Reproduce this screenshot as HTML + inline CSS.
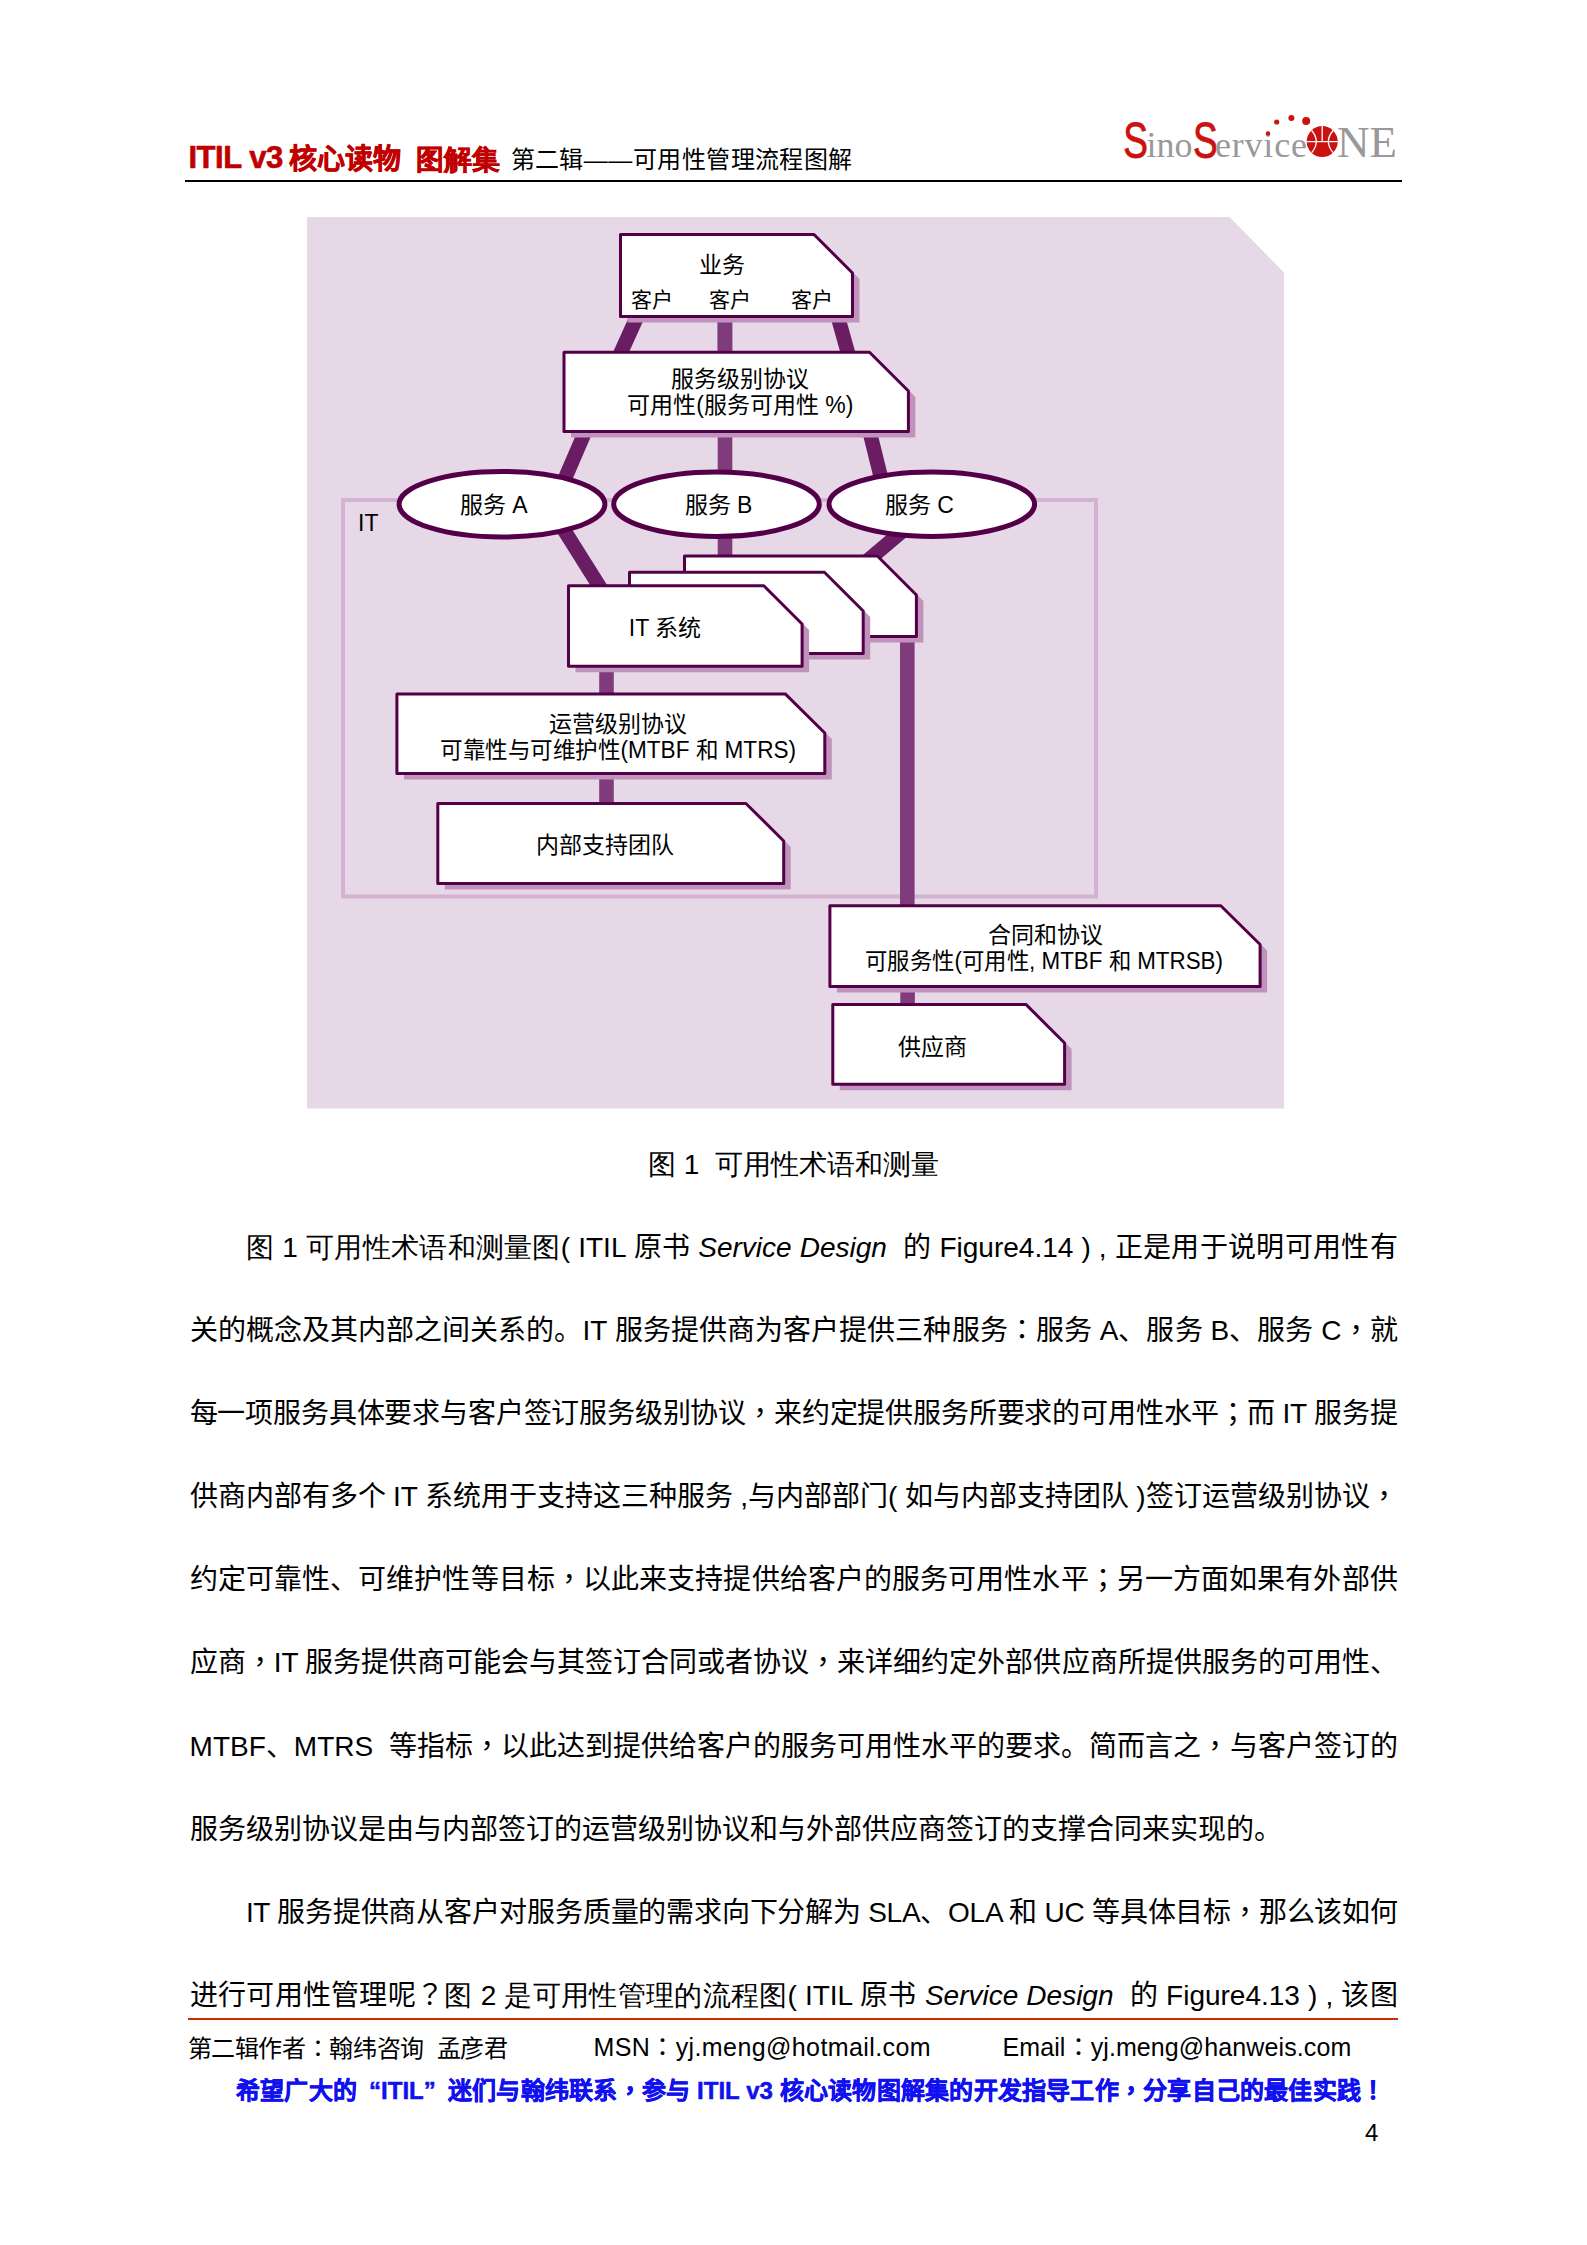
<!DOCTYPE html>
<html lang="zh-CN">
<head>
<meta charset="utf-8">
<title>ITIL v3 核心读物 图解集</title>
<style>
html,body{margin:0;padding:0;background:#fff;}
body{width:1587px;height:2245px;position:relative;overflow:hidden;font-family:"Liberation Sans",sans-serif;color:#000;}
.abs{position:absolute;white-space:nowrap;}
.hdr-red{color:#c00000;font-weight:bold;font-size:28px;line-height:34px;-webkit-text-stroke:0.6px #c00000;}
.hdr-blk{font-size:24px;line-height:34px;}
.rule{position:absolute;height:2px;background:#000;}
.ln{position:absolute;left:189.6px;width:1208px;font-size:28px;line-height:34px;height:34px;text-align:justify;text-align-last:justify;white-space:nowrap;}
.tw{font-feature-settings:normal;}
.ln.ind{left:245.9px;width:1151.7px;}
.ln i{font-style:italic;}
.cap{font-size:28px;line-height:34px;}
.ft{font-size:24px;line-height:30px;}
.blue{color:#1010f0;font-weight:bold;-webkit-text-stroke:0.5px #1010f0;font-size:24px;line-height:30px;}
svg{position:absolute;left:0;top:0;}
.dt{position:absolute;white-space:nowrap;font-size:23px;line-height:23px;transform:translateX(-50%);}

/* fallback used only when no CJK-capable font is available to the renderer */
.nocjk .cj,.nocjk .cjp{display:inline-block;width:1em;height:.89em;vertical-align:-.03em;overflow:hidden;color:transparent;-webkit-text-stroke:0;position:relative;text-indent:0;}
.nocjk .cj::before{content:"";position:absolute;left:.04em;right:.04em;top:0;bottom:0;background:var(--cc,#000);opacity:.37;}
.nocjk .cjp::before{content:"";position:absolute;left:.12em;width:.16em;bottom:.02em;height:.16em;background:var(--cc,#000);opacity:.5;}
.ls2{letter-spacing:-0.2px;}.ls3{letter-spacing:-0.3px;}
.nocjk .ls2 .cj,.nocjk .ls2 .cjp{margin-right:-0.2px;}.nocjk .ls3 .cj,.nocjk .ls3 .cjp{margin-right:-0.3px;}
.nocjk .hdr-red{--cc:#c00000;}
.nocjk .blue{--cc:#1010f0;}
.nocjk .hdr-red .cj::before,.nocjk .blue .cj::before{opacity:.72;}
</style>
</head>
<body>
<!-- header -->
<div class="abs hdr-red" style="left:188.5px;top:141px;font-size:31px;letter-spacing:-0.5px;">ITIL v3</div>
<div class="abs hdr-red" style="left:289px;top:142.5px;">核心读物</div>
<div class="abs hdr-red" style="left:416px;top:142.5px;">图解集</div>
<div class="abs hdr-blk" style="left:510.5px;top:143px;letter-spacing:0.45px;">第二辑——可用性管理流程图解</div>
<div class="rule" style="left:185px;top:180px;width:1217px;"></div>

<!-- logo -->
<svg width="1587" height="240" viewBox="0 0 1587 240" style="left:0;top:0">
  <g fill="#cc1111" stroke="#cc1111" stroke-width="0.9" font-family="Liberation Sans">
    <text x="0" y="0" font-size="50" transform="translate(1123.3 157.8) scale(0.74 1)">S</text>
    <text x="0" y="0" font-size="50" transform="translate(1193 157.8) scale(0.74 1)">S</text>
  </g>
  <g fill="#999999" font-family="Liberation Serif">
    <text x="1146.5" y="157" font-size="36">ino</text>
    <text x="1215" y="157" font-size="36" letter-spacing="0.8">ervice</text>
    <text x="1337" y="157" font-size="45">NE</text>
  </g>
  <circle cx="1268" cy="133.4" r="2.2" fill="#cc1111"/>
  <circle cx="1276.7" cy="122" r="2.6" fill="#cc1111"/>
  <circle cx="1291.4" cy="118" r="3" fill="#cc1111"/>
  <circle cx="1306.2" cy="121" r="4" fill="#cc1111"/>
  <circle cx="1322.2" cy="141.6" r="15.5" fill="#cc1111"/>
  <path d="M1306.7 141.6 H1337.7 M1322.2 126.1 V141.6 M1311.7 130.5 Q1320.9 141.6 1311.7 152.7 M1333.1 130.5 Q1323.7 141.6 1333.1 152.7" stroke="#fff" stroke-width="1.3" fill="none"/>
</svg>

<!-- diagram -->
<svg width="1587" height="1120" viewBox="0 0 1587 1120" style="left:0;top:0">
  <polygon points="307,217 1229.6,217 1284,272.5 1284,1108.6 307,1108.6" fill="#e6d8e7"/>
  <!-- IT rect -->
  <rect x="343" y="500" width="753" height="396.5" fill="none" stroke="#d3b3d1" stroke-width="4"/>
  <!-- connectors -->
  <g stroke="#6a1d62" stroke-width="14.5" fill="none">
    <line x1="639.2" y1="312" x2="618.4" y2="358" stroke-width="14.6"/>
    <line x1="836.5" y1="312" x2="849.4" y2="358"/>
    <line x1="588" y1="425" x2="560" y2="490"/>
    <line x1="868" y1="425" x2="884" y2="490"/>
    <line x1="557.7" y1="520" x2="608" y2="600"/>
    <line x1="915.6" y1="520" x2="856.4" y2="570"/>
  </g>
  <g stroke="#7f3b7b" stroke-width="14.6" fill="none">
    <line x1="724.9" y1="312" x2="724.9" y2="360" stroke-width="15"/>
    <line x1="725" y1="425" x2="725" y2="480"/>
    <line x1="725" y1="530" x2="725" y2="565"/>
    <line x1="606.5" y1="660" x2="606.5" y2="700"/>
    <line x1="606.5" y1="770" x2="606.5" y2="810"/>
    <line x1="907.3" y1="630" x2="907.3" y2="910"/>
    <line x1="907.6" y1="980" x2="907.6" y2="1010"/>
  </g>
  <!-- boxes: shadow then box -->
  <g id="boxes">
    <!-- B1 -->
    <polygon points="627.5,240.5 821,240.5 859.5,279 859.5,322.5 627.5,322.5" fill="#bf93bc"/>
    <polygon points="620.5,234.5 814,234.5 852.5,273 852.5,316.5 620.5,316.5" fill="#fff" stroke="#530048" stroke-width="3" stroke-linejoin="round"/>
    <!-- B2 -->
    <polygon points="571,358.2 876.5,358.2 915.4,397 915.4,437.5 571,437.5" fill="#bf93bc"/>
    <polygon points="564,352.2 869.5,352.2 908.4,391 908.4,431.5 564,431.5" fill="#fff" stroke="#530048" stroke-width="3" stroke-linejoin="round"/>
    <!-- IT3 -->
    <polygon points="691.5,562 884.4,562 923.4,601 923.4,642.5 691.5,642.5" fill="#bf93bc"/>
    <polygon points="684.5,556 877.4,556 916.4,595 916.4,636.5 684.5,636.5" fill="#fff" stroke="#530048" stroke-width="3" stroke-linejoin="round"/>
    <!-- IT2 -->
    <polygon points="636.5,578.3 831.4,578.3 870.2,617 870.2,659.5 636.5,659.5" fill="#bf93bc"/>
    <polygon points="629.5,572.3 824.4,572.3 863.2,611 863.2,653.5 629.5,653.5" fill="#fff" stroke="#530048" stroke-width="3" stroke-linejoin="round"/>
    <!-- IT1 -->
    <polygon points="575.5,591.8 770.8,591.8 809.1,630 809.1,672.3 575.5,672.3" fill="#bf93bc"/>
    <polygon points="568.5,585.8 763.8,585.8 802.1,624 802.1,666.3 568.5,666.3" fill="#fff" stroke="#530048" stroke-width="3" stroke-linejoin="round"/>
    <!-- OLA -->
    <polygon points="403.9,700.1 792.5,700.1 831.8,739 831.8,779.4 403.9,779.4" fill="#bf93bc"/>
    <polygon points="396.9,694.1 785.5,694.1 824.8,733 824.8,773.4 396.9,773.4" fill="#fff" stroke="#530048" stroke-width="3" stroke-linejoin="round"/>
    <!-- Team -->
    <polygon points="444.8,809.5 752.9,809.5 790.7,847 790.7,889.4 444.8,889.4" fill="#bf93bc"/>
    <polygon points="437.8,803.5 745.9,803.5 783.7,841 783.7,883.4 437.8,883.4" fill="#fff" stroke="#530048" stroke-width="3" stroke-linejoin="round"/>
    <!-- Contract -->
    <polygon points="836.9,911.8 1227.8,911.8 1267.1,950.5 1267.1,992.6 836.9,992.6" fill="#bf93bc"/>
    <polygon points="829.9,905.8 1220.8,905.8 1260.1,944.5 1260.1,986.6 829.9,986.6" fill="#fff" stroke="#530048" stroke-width="3" stroke-linejoin="round"/>
    <!-- Supplier -->
    <polygon points="839.8,1010.4 1032.9,1010.4 1071.6,1049 1071.6,1090.3 839.8,1090.3" fill="#bf93bc"/>
    <polygon points="832.8,1004.4 1025.9,1004.4 1064.6,1043 1064.6,1084.3 832.8,1084.3" fill="#fff" stroke="#530048" stroke-width="3" stroke-linejoin="round"/>
  </g>
  <!-- ellipses -->
  <g fill="#fff" stroke="#530048" stroke-width="5">
    <ellipse cx="502" cy="504.3" rx="102.9" ry="32.8"/>
    <ellipse cx="716.5" cy="504.2" rx="102.8" ry="32.2"/>
    <ellipse cx="931.8" cy="504.2" rx="102.8" ry="32.2"/>
  </g>
</svg>

<!-- diagram text -->
<div class="dt" style="left:721.5px;top:253.83px;">业务</div>
<div class="dt" style="left:652.2px;top:289.22px;font-size:21px;line-height:21px;">客户</div>
<div class="dt" style="left:730.2px;top:289.22px;font-size:21px;line-height:21px;">客户</div>
<div class="dt" style="left:812.0px;top:289.22px;font-size:21px;line-height:21px;">客户</div>
<div class="dt" style="left:739.7px;top:367.8px;">服务级别协议</div>
<div class="dt" style="left:740.4px;top:393.53px;">可用性(服务可用性 %)</div>
<div class="dt" style="left:493.8px;top:493.53px;">服务 A</div>
<div class="dt" style="left:718.6px;top:493.53px;">服务 B</div>
<div class="dt" style="left:919.3px;top:493.53px;">服务 C</div>
<div class="dt" style="left:665.0px;top:616.53px;">IT 系统</div>
<div class="dt" style="left:617.7px;top:712.8px;">运营级别协议</div>
<div class="dt" style="left:617.7px;top:738.53px;transform:translateX(-50%) scaleX(0.9811);">可靠性与可维护性(MTBF 和 MTRS)</div>
<div class="dt" style="left:604.8px;top:833.53px;">内部支持团队</div>
<div class="dt" style="left:1045.0px;top:923.8px;">合同和协议</div>
<div class="dt" style="left:1044.3px;top:949.53px;transform:translateX(-50%) scaleX(0.9729);">可服务性(可用性, MTBF 和 MTRSB)</div>
<div class="dt" style="left:932.3px;top:1035.53px;">供应商</div>
<div class="dt" style="left:358px;top:511.53px;transform:none;">IT</div>

<!-- caption -->
<div class="abs cap" style="left:793.5px;top:1147.5px;transform:translateX(-50%);">图 1&nbsp; 可用性术语和测量</div>

<!-- body -->
<div class="ln ind" style="top:1230.5px;">图 1 可用性术语和测量图( ITIL 原书 <i>Service Design</i>&nbsp; 的 Figure4.14 ) , 正是用于说明可用性有</div>
<div class="ln" style="top:1313.7px;">关的概念及其内部之间关系的。IT 服务提供商为客户提供三种服务<span class="tw" lang="zh-TW">：</span>服务 A、服务 B、服务 C<span class="tw" lang="zh-TW">，</span>就</div>
<div class="ln ls2" style="top:1396.9px;">每一项服务具体要求与客户签订服务级别协议<span class="tw" lang="zh-TW">，</span>来约定提供服务所要求的可用性水平<span class="tw" lang="zh-TW">；</span>而 IT 服务提</div>
<div class="ln" style="top:1480.0px;word-spacing:-0.4px;">供商内部有多个 IT 系统用于支持这三种服务 ,与内部部门( 如与内部支持团队 )签订运营级别协议<span class="tw" lang="zh-TW">，</span></div>
<div class="ln" style="top:1563.2px;">约定可靠性、可维护性等目标<span class="tw" lang="zh-TW">，</span>以此来支持提供给客户的服务可用性水平<span class="tw" lang="zh-TW">；</span>另一方面如果有外部供</div>
<div class="ln" style="top:1646.4px;word-spacing:-0.6px;">应商<span class="tw" lang="zh-TW">，</span>IT 服务提供商可能会与其签订合同或者协议<span class="tw" lang="zh-TW">，</span>来详细约定外部供应商所提供服务的可用性、</div>
<div class="ln" style="top:1729.6px;">MTBF、MTRS&nbsp; 等指标<span class="tw" lang="zh-TW">，</span>以此达到提供给客户的服务可用性水平的要求。简而言之<span class="tw" lang="zh-TW">，</span>与客户签订的</div>
<div class="ln" style="top:1812.8px;width:auto;text-align:left;text-align-last:auto;">服务级别协议是由与内部签订的运营级别协议和与外部供应商签订的支撑合同来实现的。</div>
<div class="ln ind ls3" style="top:1895.9px;">IT 服务提供商从客户对服务质量的需求向下分解为 SLA、OLA 和 UC 等具体目标<span class="tw" lang="zh-TW">，</span>那么该如何</div>
<div class="ln" style="top:1979.1px;">进行可用性管理呢<span class="tw" lang="zh-TW">？</span>图 2 是可用性管理的流程图( ITIL 原书 <i>Service Design</i>&nbsp; 的 Figure4.13 ) , 该图</div>

<!-- footer -->
<div class="rule" style="left:188px;top:2018px;width:1209.5px;background:#cb2d00;"></div>
<div class="abs ft" style="left:187.5px;top:2033.5px;letter-spacing:-0.35px;">第二辑作者<span class="tw" lang="zh-TW">：</span>翰纬咨询&nbsp; 孟彦君</div>
<div class="abs ft" style="left:593.5px;top:2032px;font-size:25px;letter-spacing:0.4px;">MSN<span class="tw" lang="zh-TW">：</span>yj.meng@hotmail.com</div>
<div class="abs ft" style="left:1002.5px;top:2032px;font-size:25px;letter-spacing:0.1px;">Email<span class="tw" lang="zh-TW">：</span>yj.meng@hanweis.com</div>
<div class="abs blue" style="left:236px;top:2075.5px;width:1149px;text-align:justify;text-align-last:justify;">希望广大的<span style="display:inline-block;width:24px;text-align:right;text-align-last:right;">“</span>ITIL<span style="display:inline-block;width:24px;text-align:left;text-align-last:left;">”</span>迷们与翰纬联系<span class="tw" lang="zh-TW">，</span>参与 ITIL v3 核心读物图解集的开发指导工作<span class="tw" lang="zh-TW">，</span>分享自己的最佳实践<span class="tw" lang="zh-TW">！</span></div>
<div class="abs ft" style="left:1365px;top:2118px;">4</div>
<script>
(function(){
  try {
    var cv = document.createElement('canvas'); cv.width = 48; cv.height = 48;
    var g = cv.getContext('2d');
    var draw = function(ch){
      g.clearRect(0,0,48,48); g.fillStyle = '#000'; g.textBaseline = 'top';
      g.font = '32px "Liberation Sans", sans-serif'; g.fillText(ch, 4, 4);
      return Array.prototype.join.call(g.getImageData(0,0,48,48).data, '');
    };
    var han = draw('\u56fe') + draw('\u52a1');
    var none = draw('\udbff\udffd') + draw('\udbff\udffd');
    if (han !== none) return;            /* a CJK font exists: keep real glyphs */
    document.documentElement.className += ' nocjk';
    var ideo = /[\u2e80-\u2fdf\u3400-\u4dbf\u4e00-\u9fff\uf900-\ufaff]/;
    var punc = /[\u3000-\u303f\uff00-\uffef]/;
    var walker = document.createTreeWalker(document.body, NodeFilter.SHOW_TEXT, null, false);
    var nodes = [], n;
    while ((n = walker.nextNode())) {
      var p = n.parentNode;
      if (p && (p.nodeName === 'SCRIPT' || p.nodeName === 'STYLE')) continue;
      if (/[\u2e80-\u2fdf\u3000-\u303f\u3400-\u4dbf\u4e00-\u9fff\uf900-\ufaff\uff00-\uffef]/.test(n.data)) nodes.push(n);
    }
    nodes.forEach(function(t){
      var f = document.createDocumentFragment(), buf = '', d = t.data;
      for (var i = 0; i < d.length; i++) {
        var c = d.charAt(i), k = ideo.test(c) ? 'cj' : (punc.test(c) ? 'cjp' : '');
        if (!k) { buf += c; continue; }
        if (buf) { f.appendChild(document.createTextNode(buf)); buf = ''; }
        var sp = document.createElement('span'); sp.className = k; sp.textContent = c; f.appendChild(sp);
      }
      if (buf) f.appendChild(document.createTextNode(buf));
      t.parentNode.replaceChild(f, t);
    });
  } catch (e) {}
})();
</script>
</body>
</html>
